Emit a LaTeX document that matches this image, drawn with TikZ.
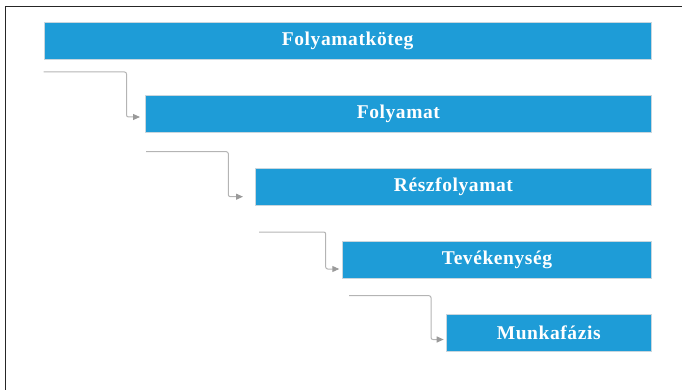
\documentclass[tikz,border=0pt]{standalone}
\usepackage{fontspec}
\setmainfont{Liberation Serif}
\newfontfamily\barfont[LetterSpace=3]{Liberation Serif}
\usetikzlibrary{arrows.meta}
\definecolor{boxblue}{HTML}{1E9CD7}
\definecolor{boxedge}{HTML}{C8D6DE}
\definecolor{linegray}{HTML}{B4B4B4}
\definecolor{tipgray}{HTML}{9A9A9A}
\begin{document}
\begin{tikzpicture}[x=1pt,y=-1pt,
  bar/.style={draw=boxedge, line width=0.8pt, fill=boxblue, anchor=north west,
    minimum height=36.5pt, inner sep=0pt, text=white,
    font=\barfont\fontsize{19.5}{21}\selectfont\bfseries},
  link/.style={draw=linegray, line width=1pt, rounded corners=2pt,
    -{Triangle[length=7pt,width=6pt,color=tipgray]}}]
\useasboundingbox (0,0) rectangle (682,390);
\draw[line width=1.2pt, black!85] (5.5,390) -- (5.5,6.8) -- (682,6.8);
\node[bar, minimum width=607.5pt] (b1) at (43.5,22.5) {Folyamatköteg};
\node[bar, minimum width=506pt] (b2) at (145,95.5) {Folyamat};
\node[bar, minimum width=396pt] (b3) at (255,168.5) {Részfolyamat};
\node[bar, minimum width=308.7pt] (b4) at (342.3,241.2) {Tevékenység};
\node[bar, minimum width=205.3pt] (b5) at (445.7,314.3) {Munkafázis};
\coordinate (s1) at (43.5,72);
\coordinate (s2) at (146,151.7);
\coordinate (s3) at (259,232);
\coordinate (s4) at (349,295.7);
\draw[link, shorten >=5pt] (s1) -- (126.5,72) -- (126.5,117) -- (b2.west |- 0,117);
\draw[link, shorten >=12pt] (s2) -- (228.3,151.7) -- (228.3,196.7) -- (b3.west |- 0,196.7);
\draw[link, shorten >=3pt] (s3) -- (325.7,232) -- (325.7,269) -- (b4.west |- 0,269);
\draw[link, shorten >=2pt] (s4) -- (431,295.7) -- (431,339.5) -- (b5.west |- 0,339.5);
\end{tikzpicture}
\end{document}
